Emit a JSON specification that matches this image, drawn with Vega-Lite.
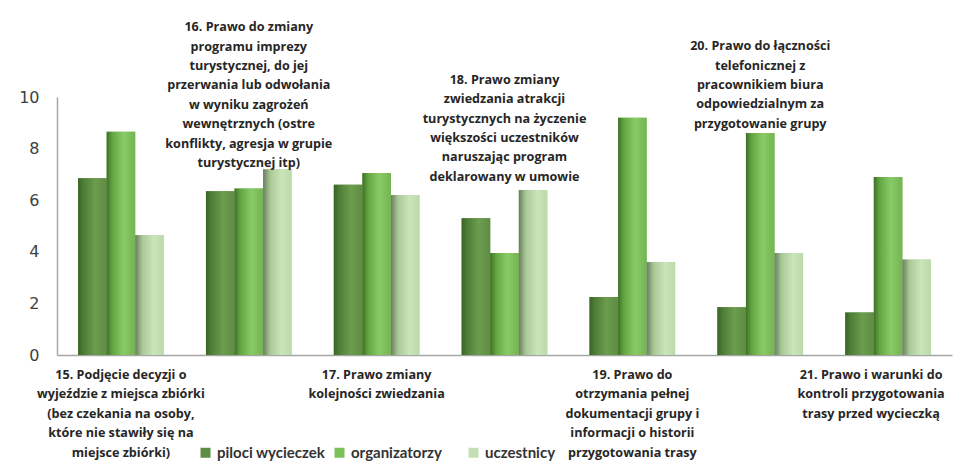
{
  "$schema": "https://vega.github.io/schema/vega-lite/v6.json",
  "width": 895,
  "height": 258,
  "autosize": {"type": "none"},
  "padding": {"left": 57, "top": 97, "right": 3, "bottom": 111},
  "background": "white",
  "config": {
    "view": {"stroke": null},
    "axis": {"grid": false},
    "axisY": {"values": [0, 2, 4, 6, 8, 10], "ticks": false, "labelPadding": 18, "labelFont": "DejaVu Sans", "labelFontSize": 16, "labelColor": "#404040", "domainColor": "#a6a6a6", "domainWidth": 1.5, "title": null},
    "axisX": {"labels": false, "ticks": false, "title": null, "domainColor": "#a6a6a6", "domainWidth": 1.5},
    "text": {"lineBreak": "\n", "lineHeight": 19.4, "font": "Open Sans", "fontWeight": "bold", "fontSize": 12.6, "color": "#262626", "align": "center"},
    "legend": {
      "orient": "none",
      "legendX": 141,
      "legendY": 348,
      "direction": "horizontal",
      "columns": 3,
      "gridAlign": "all",
      "symbolType": "square",
      "symbolSize": 100,
      "symbolStrokeWidth": 0,
      "labelFont": "Lato",
      "labelFontWeight": "bold",
      "labelFontSize": 15,
      "labelColor": "#333333",
      "columnPadding": 6,
      "symbolOffset": 0
    }
  },
  "datasets": {
    "bars": [
      {"nr": 15, "series": "piloci wycieczek", "value": 6.85},
      {"nr": 15, "series": "organizatorzy", "value": 8.65},
      {"nr": 15, "series": "uczestnicy", "value": 4.65},
      {"nr": 16, "series": "piloci wycieczek", "value": 6.35},
      {"nr": 16, "series": "organizatorzy", "value": 6.45},
      {"nr": 16, "series": "uczestnicy", "value": 7.2},
      {"nr": 17, "series": "piloci wycieczek", "value": 6.6},
      {"nr": 17, "series": "organizatorzy", "value": 7.05},
      {"nr": 17, "series": "uczestnicy", "value": 6.2},
      {"nr": 18, "series": "piloci wycieczek", "value": 5.3},
      {"nr": 18, "series": "organizatorzy", "value": 3.95},
      {"nr": 18, "series": "uczestnicy", "value": 6.4},
      {"nr": 19, "series": "piloci wycieczek", "value": 2.25},
      {"nr": 19, "series": "organizatorzy", "value": 9.2},
      {"nr": 19, "series": "uczestnicy", "value": 3.6},
      {"nr": 20, "series": "piloci wycieczek", "value": 1.85},
      {"nr": 20, "series": "organizatorzy", "value": 8.6},
      {"nr": 20, "series": "uczestnicy", "value": 3.95},
      {"nr": 21, "series": "piloci wycieczek", "value": 1.65},
      {"nr": 21, "series": "organizatorzy", "value": 6.9},
      {"nr": 21, "series": "uczestnicy", "value": 3.7}
    ],
    "labels": [
      {"nr": 15, "label": "15. Podjęcie decyzji o\nwyjeździe z miejsca zbiórki\n(bez czekania na osoby,\nktóre nie stawiły się na\nmiejsce zbiórki)"},
      {"nr": 16, "label": "16. Prawo do zmiany\nprogramu imprezy\nturystycznej, do jej\nprzerwania lub odwołania\nw wyniku zagrożeń\nwewnętrznych (ostre\nkonflikty, agresja w grupie\nturystycznej itp)"},
      {"nr": 17, "label": "17. Prawo zmiany\nkolejności zwiedzania"},
      {"nr": 18, "label": "18. Prawo zmiany\nzwiedzania atrakcji\nturystycznych na życzenie\nwiększości uczestników\nnaruszając program\ndeklarowany w umowie"},
      {"nr": 19, "label": "19. Prawo do\notrzymania pełnej\ndokumentacji grupy i\ninformacji o historii\nprzygotowania trasy"},
      {"nr": 20, "label": "20. Prawo do łączności\ntelefonicznej z\npracownikiem biura\nodpowiedzialnym za\nprzygotowanie grupy"},
      {"nr": 21, "label": "21. Prawo i warunki do\nkontroli przygotowania\ntrasy przed wycieczką"}
    ]
  },
  "encoding": {
    "x": {"field": "nr", "type": "ordinal", "scale": {"paddingInner": 0.33, "paddingOuter": 0.165}}
  },
  "layer": [
    {
      "data": {"name": "bars"},
      "mark": {"type": "bar"},
      "encoding": {
        "xOffset": {"field": "series", "type": "nominal", "scale": {"domain": ["piloci wycieczek", "organizatorzy", "uczestnicy"]}},
        "y": {"field": "value", "type": "quantitative", "scale": {"domain": [0, 10]}},
        "color": {"field": "series", "type": "nominal", "title": null,
          "scale": {"domain": ["piloci wycieczek", "organizatorzy", "uczestnicy"], "range": ["#5f8c45", "#7bc157", "#c5dfb4"]}}
      }
    },
    {
      "data": {"name": "bars"},
      "transform": [{"filter": "datum.series == 'piloci wycieczek'"}],
      "mark": {"type": "bar", "color": {"gradient": "linear", "x1": 0, "x2": 1, "y1": 0, "y2": 0,
        "stops": [{"offset": 0, "color": "#3b6426"}, {"offset": 0.2, "color": "#4f7f37"}, {"offset": 0.6, "color": "#6c9c4e"}, {"offset": 1, "color": "#5e8c42"}]}},
      "encoding": {
        "xOffset": {"field": "series", "type": "nominal"},
        "y": {"field": "value", "type": "quantitative"}
      }
    },
    {
      "data": {"name": "bars"},
      "transform": [{"filter": "datum.series == 'organizatorzy'"}],
      "mark": {"type": "bar", "color": {"gradient": "linear", "x1": 0, "x2": 1, "y1": 0, "y2": 0,
        "stops": [{"offset": 0, "color": "#3f7027"}, {"offset": 0.2, "color": "#62a543"}, {"offset": 0.6, "color": "#88cb67"}, {"offset": 1, "color": "#74b452"}]}},
      "encoding": {
        "xOffset": {"field": "series", "type": "nominal"},
        "y": {"field": "value", "type": "quantitative"}
      }
    },
    {
      "data": {"name": "bars"},
      "transform": [{"filter": "datum.series == 'uczestnicy'"}],
      "mark": {"type": "bar", "color": {"gradient": "linear", "x1": 0, "x2": 1, "y1": 0, "y2": 0,
        "stops": [{"offset": 0, "color": "#6a7d5e"}, {"offset": 0.25, "color": "#a9c997"}, {"offset": 0.65, "color": "#cbe4bb"}, {"offset": 1, "color": "#bcd9a8"}]}},
      "encoding": {
        "xOffset": {"field": "series", "type": "nominal"},
        "y": {"field": "value", "type": "quantitative"}
      }
    },
    {
      "data": {"name": "bars"},
      "transform": [
        {"filter": "datum.nr == 16"},
        {"aggregate": [{"op": "max", "field": "value", "as": "value"}], "groupby": ["nr"]},
        {"lookup": "nr", "from": {"data": {"name": "labels"}, "key": "nr", "fields": ["label"]}}
      ],
      "mark": {"type": "text", "baseline": "bottom", "dy": -135},
      "encoding": {
        "y": {"field": "value", "type": "quantitative"},
        "text": {"field": "label"}
      }
    },
    {
      "data": {"name": "bars"},
      "transform": [
        {"filter": "datum.nr == 18"},
        {"aggregate": [{"op": "max", "field": "value", "as": "value"}], "groupby": ["nr"]},
        {"lookup": "nr", "from": {"data": {"name": "labels"}, "key": "nr", "fields": ["label"]}}
      ],
      "mark": {"type": "text", "baseline": "bottom", "dy": -103},
      "encoding": {
        "y": {"field": "value", "type": "quantitative"},
        "text": {"field": "label"}
      }
    },
    {
      "data": {"name": "bars"},
      "transform": [
        {"filter": "datum.nr == 20"},
        {"aggregate": [{"op": "max", "field": "value", "as": "value"}], "groupby": ["nr"]},
        {"lookup": "nr", "from": {"data": {"name": "labels"}, "key": "nr", "fields": ["label"]}}
      ],
      "mark": {"type": "text", "baseline": "bottom", "dy": -80},
      "encoding": {
        "y": {"field": "value", "type": "quantitative"},
        "text": {"field": "label"}
      }
    },
    {
      "data": {"name": "labels"},
      "transform": [{"filter": "datum.nr == 15 || datum.nr == 17 || datum.nr == 19"}],
      "mark": {"type": "text", "baseline": "top", "dy": 14},
      "encoding": {
        "y": {"datum": 0, "type": "quantitative"},
        "text": {"field": "label"}
      }
    },
    {
      "data": {"name": "labels"},
      "transform": [{"filter": "datum.nr == 21"}],
      "mark": {"type": "text", "baseline": "top", "dy": 14, "dx": -17},
      "encoding": {
        "y": {"datum": 0, "type": "quantitative"},
        "text": {"field": "label"}
      }
    }
  ]
}
